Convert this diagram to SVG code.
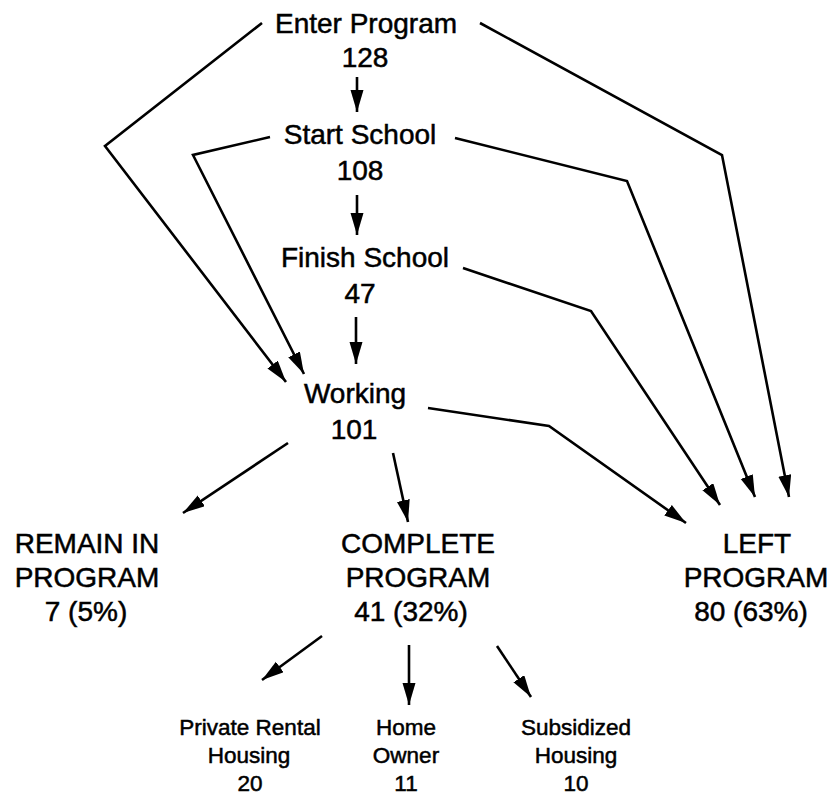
<svg xmlns="http://www.w3.org/2000/svg" width="830" height="797" viewBox="0 0 830 797">
<defs>
<marker id="ah" markerUnits="userSpaceOnUse" markerWidth="26" markerHeight="14" refX="22" refY="6.5" orient="auto">
<path d="M0,0 L22,6.5 L0,13 z" fill="#000"/>
</marker>
<style>
.t{font-family:"Liberation Sans",Arial,sans-serif;font-size:28px;text-anchor:middle;fill:#000;stroke:#000;stroke-width:0.5}
.s{font-family:"Liberation Sans",Arial,sans-serif;font-size:22.5px;text-anchor:middle;fill:#000;stroke:#000;stroke-width:0.5}
.c{fill:none;stroke:#000;stroke-width:2.6;marker-end:url(#ah)}
</style>
</defs>
<rect width="830" height="797" fill="#fff"/>
<g id="enter"><text class="t" x="366" y="33">Enter Program</text><text class="t" x="365" y="67">128</text></g>
<g id="start"><text class="t" x="360" y="144">Start School</text><text class="t" x="360" y="180">108</text></g>
<g id="finish"><text class="t" x="365" y="267">Finish School</text><text class="t" x="360" y="303">47</text></g>
<g id="working"><text class="t" x="355" y="403">Working</text><text class="t" x="354" y="439">101</text></g>
<g id="remain"><text class="t" x="87" y="553">REMAIN IN</text><text class="t" x="87" y="587">PROGRAM</text><text class="t" x="86" y="621">7 (5%)</text></g>
<g id="complete"><text class="t" x="418" y="553">COMPLETE</text><text class="t" x="418" y="587">PROGRAM</text><text class="t" x="411" y="621">41 (32%)</text></g>
<g id="left"><text class="t" x="757" y="553">LEFT</text><text class="t" x="756" y="587">PROGRAM</text><text class="t" x="751" y="621">80 (63%)</text></g>
<g id="private"><text class="s" x="250" y="735">Private Rental</text><text class="s" x="249" y="763">Housing</text><text class="s" x="250" y="791">20</text></g>
<g id="home"><text class="s" x="406" y="735">Home</text><text class="s" x="406" y="763">Owner</text><text class="s" x="406" y="791">11</text></g>
<g id="subsidized"><text class="s" x="576" y="735">Subsidized</text><text class="s" x="576" y="763">Housing</text><text class="s" x="576" y="791">10</text></g>
<g id="connectors">
<path class="c" d="M357,77 L357,112"/>
<path class="c" d="M357,195 L357,235"/>
<path class="c" d="M356,317 L356,364"/>
<path class="c" d="M262,23 L105,146 L286,382"/>
<path class="c" d="M270,137 L193,155 L304,374"/>
<path class="c" d="M480,23 L722,155 L789,497"/>
<path class="c" d="M455,138 L627,181 L755,497"/>
<path class="c" d="M463,268 L591,311 L720,505"/>
<path class="c" d="M428,408 L549,426 L686,523"/>
<path class="c" d="M288,443 L183,513"/>
<path class="c" d="M393,453 L408,522"/>
<path class="c" d="M322,636 L262,680"/>
<path class="c" d="M409,645 L409,705"/>
<path class="c" d="M497,646 L531,697"/>
</g>
</svg>
